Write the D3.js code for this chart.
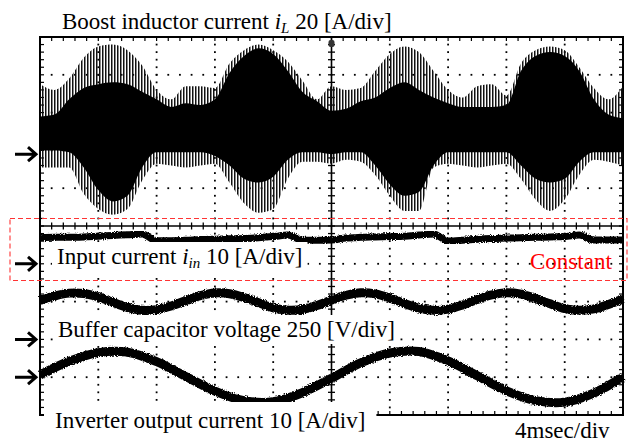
<!DOCTYPE html>
<html>
<head>
<meta charset="utf-8">
<script src="https://cdn.jsdelivr.net/npm/d3@7"></script>
<style>
  body { margin: 0; background: #fff; }
  svg { display: block; }
  text { font-family: "Liberation Serif", "Times New Roman", serif; }
</style>
</head>
<body>
<svg id="vis" width="632" height="442"></svg>
<script>
// sample instants, ms (4 ms/div, 10 div)
const timeMs = d3.range(0, 41, 1)

// boost inductor current iL [A] : envelopes of the switching ripple
const iLOuterHigh = [37, 34, 40, 51, 57, 58, 55, 47, 34, 29, 36, 36, 35, 48, 55, 58, 55, 49, 39, 29, 36, 34, 35, 44, 53, 57, 54, 44, 34, 30, 36, 37, 31, 48, 55, 57, 55, 46, 35, 29, 36]
const iLInnerHigh = [20, 21, 29, 35, 37, 38, 37, 33, 29, 25, 27, 26, 29, 43, 52, 56, 53, 44, 33, 28, 23, 24, 28, 30, 35, 38, 34, 30, 27, 25, 25, 25, 26, 44, 52, 54, 52, 44, 29, 21, 19]
const iLInnerLow = [2, 2, 1, -7, -19, -25, -22, -7, 1, 1, 1, 1, -1, -6, -13, -15, -12, -3, 1, 1, 0, 1, 1, -6, -16, -22, -20, -6, 1, 1, 1, 1, 1, -6, -13, -15, -13, -4, 1, 1, 1]
const iLOuterLow = [-7, -7, -7, -21, -29, -32, -29, -14, -5, -6, -7, -6, -5, -15, -26, -31, -29, -13, -4, -4, -5, -3, -4, -11, -22, -30, -30, -7, -5, -6, -7, -6, -5, -13, -24, -30, -24, -11, -3, -4, -6]

// input current iin [A]
const inputCurrent = [6.9, 7.0, 7.0, 7.1, 7.3, 7.5, 7.7, 7.9, 6.1, 6.1, 6.2, 6.4, 6.5, 6.6, 6.7, 6.9, 7.2, 7.6, 6.2, 6.2, 6.3, 6.8, 7.0, 7.1, 7.2, 7.3, 7.6, 7.9, 6.0, 6.2, 6.5, 6.7, 6.8, 6.9, 7.0, 7.1, 7.2, 7.6, 6.3, 6.3, 6.3]

// buffer capacitor voltage [V]
const bufferVoltage = [258, 287, 306, 304, 281, 245, 212, 193, 197, 221, 256, 289, 307, 302, 277, 242, 209, 193, 198, 224, 260, 292, 308, 301, 274, 238, 207, 192, 200, 228, 264, 294, 308, 299, 271, 235, 204, 192, 202, 231, 267]

// inverter output current [A]
const inverterCurrent = [0.6, 4.2, 6.5, 6.6, 4.1, 0.2, -3.7, -6.2, -6.5, -4.1, -0.3, 3.8, 6.4, 6.8, 4.3, 0.4, -3.6, -6.2, -6.6, -4.2, 0.1]
const inverterTime = d3.range(0, 41, 2)

// channel settings: ground marker (div) and units per div
const channels = [
  { name: 'iL', ground: 1.9, perDiv: 20 },
  { name: 'iin', ground: -1.0, perDiv: 10 },
  { name: 'vbuf', ground: -3.0, perDiv: 250 },
  { name: 'iout', ground: -4.0, perDiv: 10 }
]

const svg = d3.select('#vis')
const x = d3.scaleLinear().domain([0, 40]).range([40, 623])
const xDiv = d3.scaleLinear().domain([0, 10]).range([40, 623])
const yDiv = d3.scaleLinear().domain([-5, 5]).range([415, 37])
const chY = (ch, v) => yDiv(ch.ground + v / ch.perDiv)

const defs = svg.append('defs')
defs.append('pattern')
  .attr('id', 'hatch')
  .attr('patternUnits', 'userSpaceOnUse')
  .attr('width', 3)
  .attr('height', 10)
  .append('rect')
  .attr('width', 1.5)
  .attr('height', 10)
  .attr('fill', '#111')
const fuzz = defs.append('filter')
  .attr('id', 'fuzz')
  .attr('x', '-5%').attr('y', '-30%')
  .attr('width', '110%').attr('height', '160%')
fuzz.append('feTurbulence')
  .attr('type', 'fractalNoise')
  .attr('baseFrequency', 0.9)
  .attr('numOctaves', 1)
  .attr('result', 'noise')
fuzz.append('feDisplacementMap')
  .attr('in', 'SourceGraphic')
  .attr('in2', 'noise')
  .attr('scale', 4)
  .attr('xChannelSelector', 'R')
  .attr('yChannelSelector', 'G')

// ---- graticule
const grid = svg.append('g')
const minor = d3.range(0, 10.01, 0.2)
const minorY = d3.range(-5, 5.01, 0.2)
const divLines = [1, 2, 3, 4, 6, 7, 8, 9]
for (const k of divLines) {
  grid.selectAll(null)
    .data(minor)
    .enter()
    .append('rect')
    .attr('x', d => xDiv(d) - 0.9)
    .attr('y', yDiv(k - 5) - 0.9)
    .attr('width', 1.8)
    .attr('height', 1.8)
  grid.selectAll(null)
    .data(minorY)
    .enter()
    .append('rect')
    .attr('x', xDiv(k) - 0.9)
    .attr('y', d => yDiv(d) - 0.9)
    .attr('width', 1.8)
    .attr('height', 1.8)
}
// centre axes with ticks
grid.append('line')
  .attr('x1', xDiv(5)).attr('x2', xDiv(5))
  .attr('y1', yDiv(5)).attr('y2', yDiv(-5))
  .attr('stroke', '#000').attr('stroke-width', 1.6)
grid.append('line')
  .attr('x1', xDiv(0)).attr('x2', xDiv(10))
  .attr('y1', yDiv(0)).attr('y2', yDiv(0))
  .attr('stroke', '#000').attr('stroke-width', 1.6)
grid.selectAll(null)
  .data(minorY)
  .enter()
  .append('line')
  .attr('x1', xDiv(5) - 3.5).attr('x2', xDiv(5) + 3.5)
  .attr('y1', d => yDiv(d)).attr('y2', d => yDiv(d))
  .attr('stroke', '#000').attr('stroke-width', 1.3)
grid.selectAll(null)
  .data(minor)
  .enter()
  .append('line')
  .attr('x1', d => xDiv(d)).attr('x2', d => xDiv(d))
  .attr('y1', yDiv(0) - 3.5).attr('y2', yDiv(0) + 3.5)
  .attr('stroke', '#000').attr('stroke-width', 1.3)
// border ticks
const edgeTicks = [
  { data: minorY, x1: d => xDiv(0), x2: d => xDiv(0) + 4, y1: d => yDiv(d), y2: d => yDiv(d) },
  { data: minorY, x1: d => xDiv(10), x2: d => xDiv(10) - 4, y1: d => yDiv(d), y2: d => yDiv(d) },
  { data: minor, x1: d => xDiv(d), x2: d => xDiv(d), y1: d => yDiv(5), y2: d => yDiv(5) + 4 },
  { data: minor, x1: d => xDiv(d), x2: d => xDiv(d), y1: d => yDiv(-5), y2: d => yDiv(-5) - 4 }
]
for (const e of edgeTicks) {
  grid.selectAll(null)
    .data(e.data)
    .enter()
    .append('line')
    .attr('x1', e.x1).attr('x2', e.x2)
    .attr('y1', e.y1).attr('y2', e.y2)
    .attr('stroke', '#000').attr('stroke-width', 1.2)
}
grid.append('rect')
  .attr('x', xDiv(0)).attr('y', yDiv(5))
  .attr('width', xDiv(10) - xDiv(0))
  .attr('height', yDiv(-5) - yDiv(5))
  .attr('fill', 'none')
  .attr('stroke', '#000')
  .attr('stroke-width', 2)
grid.append('rect')
  .attr('x', xDiv(5) - 3).attr('y', yDiv(5) + 3)
  .attr('width', 6).attr('height', 7)
  .attr('rx', 2)
  .attr('fill', '#333')

// ---- traces
const iL = channels[0]
const idx = timeMs.map((t, i) => i)
svg.append('path')
  .datum(idx)
  .attr('fill', 'url(#hatch)')
  .attr('d', d3.area()
    .x(i => x(timeMs[i]))
    .y0(i => chY(iL, iLOuterLow[i]))
    .y1(i => chY(iL, iLOuterHigh[i]))
    .curve(d3.curveMonotoneX))
svg.append('path')
  .datum(idx)
  .attr('fill', '#000')
  .attr('d', d3.area()
    .x(i => x(timeMs[i]))
    .y0(i => chY(iL, iLInnerLow[i]))
    .y1(i => chY(iL, iLInnerHigh[i]))
    .curve(d3.curveMonotoneX))

const traces = [
  { ch: channels[1], t: timeMs, v: inputCurrent, w: 7, curve: d3.curveMonotoneX },
  { ch: channels[2], t: timeMs, v: bufferVoltage, w: 9, curve: d3.curveCatmullRom },
  { ch: channels[3], t: inverterTime, v: inverterCurrent, w: 9, curve: d3.curveCatmullRom }
]
for (const tr of traces) {
  svg.append('path')
    .datum(tr.v)
    .attr('fill', 'none')
    .attr('stroke', '#000')
    .attr('stroke-width', tr.w)
    .attr('filter', 'url(#fuzz)')
    .attr('d', d3.line()
      .x((d, i) => x(tr.t[i]))
      .y(d => chY(tr.ch, d))
      .curve(tr.curve))
}

// ground markers
svg.selectAll(null)
  .data(channels)
  .enter()
  .append('path')
  .attr('fill', 'none')
  .attr('stroke', '#000')
  .attr('stroke-width', 3)
  .attr('d', ch => {
    const y = chY(ch, 0)
    return `M15,${y}H36M28,${y - 7}L36,${y}L28,${y + 7}`
  })

// ---- labels
const labels = [
  { x: 62, y: 29, parts: ['Boost inductor current ', 'i', 'L', ' 20 [A/div]'], pad: [0, 0] },
  { x: 57, y: 264, parts: ['Input current ', 'i', 'in', ' 10 [A/div]'], pad: [5, 2] },
  { x: 58, y: 337, parts: ['Buffer capacitor voltage 250 [V/div]'], pad: [5, 2] },
  { x: 55, y: 428, parts: ['Inverter output current 10 [A/div]'], pad: [11, 6] },
  { x: 515, y: 438, parts: ['4msec/div'], pad: [0, 0] }
]
for (const lb of labels) {
  const g = svg.append('g')
  const t = g.append('text')
    .attr('x', lb.x)
    .attr('y', lb.y)
    .attr('font-size', 23)
    .attr('fill', '#000')
  lb.parts.forEach((p, i) => {
    const s = t.append('tspan').text(p)
    if (lb.parts.length > 1 && i === 1) s.attr('font-style', 'italic')
    if (lb.parts.length > 1 && i === 2) {
      s.attr('font-style', 'italic').attr('font-size', 15).attr('dy', 4)
    }
    if (lb.parts.length > 1 && i === 3) s.attr('dy', -4)
  })
  const b = t.node().getBBox()
  if (lb.pad[0] > 0) {
    g.insert('rect', 'text')
      .attr('x', b.x - lb.pad[0])
      .attr('y', b.y - lb.pad[1])
      .attr('width', b.width + 2 * lb.pad[0])
      .attr('height', b.height + 2 * lb.pad[1])
      .attr('fill', '#fff')
  }
}

// highlighted constant input current
svg.append('rect')
  .attr('x', 10).attr('y', 218.5)
  .attr('width', 617).attr('height', 62)
  .attr('fill', 'none')
  .attr('stroke', '#f33')
  .attr('stroke-width', 1.1)
  .attr('stroke-dasharray', '5,3')
svg.append('text')
  .attr('x', 530)
  .attr('y', 269)
  .attr('font-size', 23)
  .attr('fill', '#f00')
  .text('Constant')
</script>
</body>
</html>
